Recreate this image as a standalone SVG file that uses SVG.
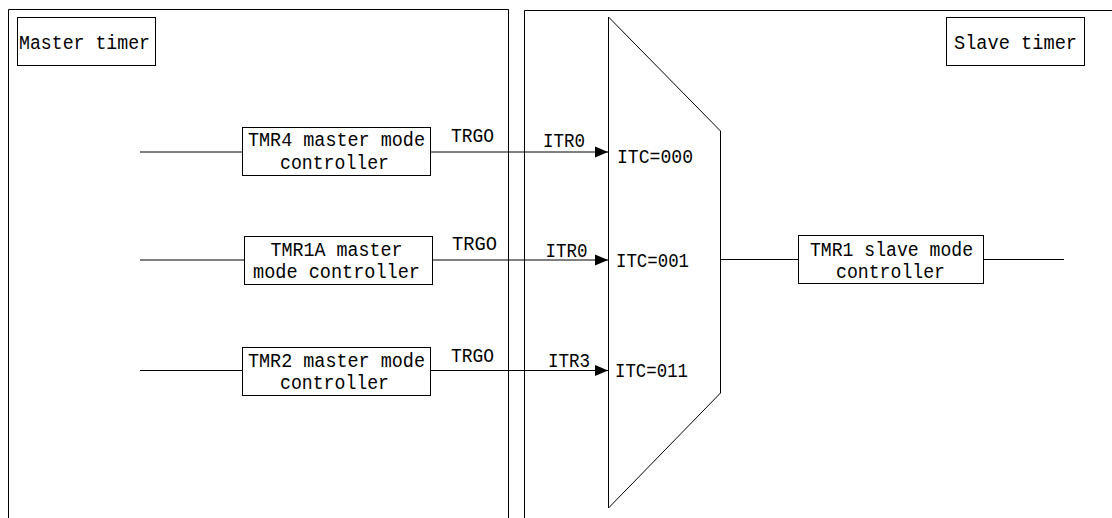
<svg xmlns="http://www.w3.org/2000/svg" width="1112" height="518" viewBox="0 0 1112 518">
<defs>
<style>
.t{font-family:"Liberation Mono","DejaVu Sans Mono",monospace;font-size:19.5px;fill:#000}
.c{text-anchor:middle}
.box{fill:#fff;stroke:#000;stroke-width:1}
.ln{stroke:#000;stroke-width:1;fill:none}
</style>
<marker id="arr" markerUnits="userSpaceOnUse" markerWidth="14" markerHeight="12" refX="13" refY="6" orient="auto">
<path d="M0,0.5 L13,6 L0,11.5 Z" fill="#000"/>
</marker>
</defs>
<rect width="1112" height="518" fill="#fff"/>
<g id="master-panel">
<path class="ln" d="M8.5,518 V9.5 H508.5 V518"/>
<rect class="box" x="17.5" y="17.5" width="138" height="48"/>
<text class="t" x="19" y="49" textLength="131" lengthAdjust="spacingAndGlyphs">Master timer</text>
</g>
<g id="slave-panel">
<path class="ln" d="M524.5,518 V10.5 H1112" stroke="#444"/>
<rect class="box" x="946.5" y="17.5" width="138" height="48"/>
<text class="t" x="954" y="49" textLength="123" lengthAdjust="spacingAndGlyphs">Slave timer</text>
</g>
<g id="mux">
<path class="box" d="M608.5,17 L720.5,131 V393 L608.5,508 Z"/>
<text class="t" x="617" y="163" textLength="76" lengthAdjust="spacingAndGlyphs">ITC=000</text>
<text class="t" x="616" y="267" textLength="73" lengthAdjust="spacingAndGlyphs">ITC=001</text>
<text class="t" x="615" y="377" textLength="73" lengthAdjust="spacingAndGlyphs">ITC=011</text>
</g>
<g id="connectors">
<line class="ln" x1="140" y1="152" x2="242" y2="152"/>
<line class="ln" x1="430" y1="152" x2="608" y2="152" marker-end="url(#arr)"/>
<line class="ln" x1="140" y1="260" x2="244" y2="260"/>
<line class="ln" x1="432" y1="260" x2="608" y2="260" marker-end="url(#arr)"/>
<line class="ln" x1="140" y1="370.5" x2="242" y2="370.5"/>
<line class="ln" x1="430" y1="370.5" x2="608" y2="370.5" marker-end="url(#arr)"/>
<line class="ln" x1="721" y1="259.5" x2="798" y2="259.5"/>
<line class="ln" x1="983" y1="259.5" x2="1064" y2="259.5"/>
<text class="t" x="451" y="142" textLength="43" lengthAdjust="spacingAndGlyphs">TRGO</text>
<text class="t" x="452" y="250" textLength="45" lengthAdjust="spacingAndGlyphs">TRGO</text>
<text class="t" x="451" y="362" textLength="43" lengthAdjust="spacingAndGlyphs">TRGO</text>
<text class="t" x="543" y="147" textLength="42" lengthAdjust="spacingAndGlyphs">ITR0</text>
<text class="t" x="545.5" y="257" textLength="42" lengthAdjust="spacingAndGlyphs">ITR0</text>
<text class="t" x="548" y="367" textLength="42" lengthAdjust="spacingAndGlyphs">ITR3</text>
</g>
<g id="tmr4">
<rect class="box" x="242.5" y="127.5" width="188" height="48"/>
<text class="t c" x="336.5" y="146" textLength="177" lengthAdjust="spacingAndGlyphs">TMR4 master mode</text>
<text class="t c" x="334.5" y="169" textLength="109" lengthAdjust="spacingAndGlyphs">controller</text>
</g>
<g id="tmr1a">
<rect class="box" x="244.5" y="236.5" width="188" height="48"/>
<text class="t c" x="336.5" y="256" textLength="132" lengthAdjust="spacingAndGlyphs">TMR1A master</text>
<text class="t c" x="336.5" y="278" textLength="167" lengthAdjust="spacingAndGlyphs">mode controller</text>
</g>
<g id="tmr2">
<rect class="box" x="242.5" y="347.5" width="188" height="48"/>
<text class="t c" x="336.5" y="367" textLength="177" lengthAdjust="spacingAndGlyphs">TMR2 master mode</text>
<text class="t c" x="334.5" y="389" textLength="109" lengthAdjust="spacingAndGlyphs">controller</text>
</g>
<g id="tmr1-slave">
<rect class="box" x="798.5" y="235.5" width="185" height="48"/>
<text class="t c" x="891.5" y="256" textLength="163" lengthAdjust="spacingAndGlyphs">TMR1 slave mode</text>
<text class="t c" x="890.5" y="278" textLength="109" lengthAdjust="spacingAndGlyphs">controller</text>
</g>
</svg>
